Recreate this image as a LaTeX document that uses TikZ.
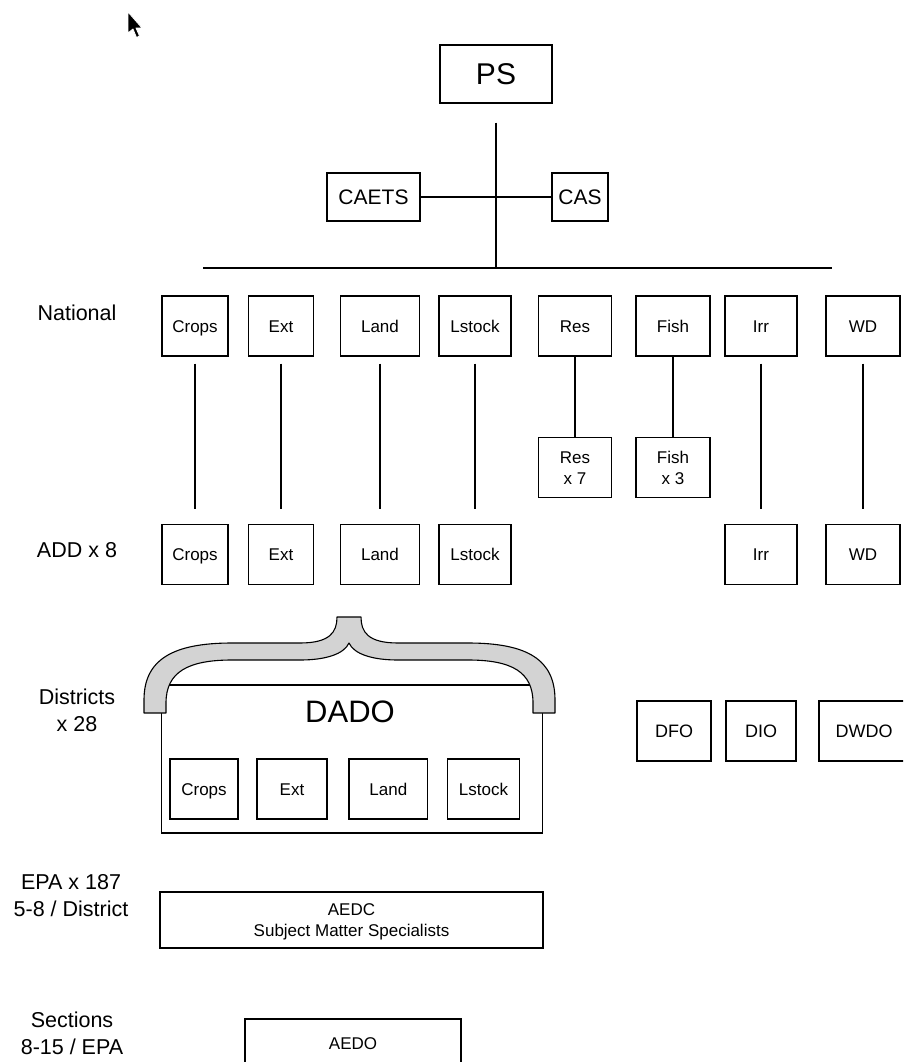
\documentclass[tikz,border=0pt]{standalone}
\usepackage{fontspec}
\setmainfont{Liberation Sans}
\usetikzlibrary{positioning, calc}
\definecolor{bracegray}{HTML}{D3D3D3}

\begin{document}
\begin{tikzpicture}[
  x=1pt, y=-1pt, line width=1.4pt,
  office/.style = {draw, rectangle, inner sep=0pt, minimum height=60pt,
                   align=center, font=\fontsize{17}{21}\selectfont,
                   text height=12.3pt, text depth=0pt},
  twoline/.style = {text height=33.3pt},
  tier/.style   = {align=center, font=\fontsize{21.5}{27}\selectfont},
  gapline/.style = {shorten <=7pt, shorten >=15pt},
]
  \useasboundingbox (0,0) rectangle (903,1062);
  \clip (0,0) rectangle (903,1062);

  % Mouse pointer
  \draw[fill=black, draw=white, line width=0.8pt, line join=round]
    (128,12) -- (128,33) -- (133,29) -- (136.5,37.5) -- (139.5,36) -- (136,28) -- (142,28) -- cycle;

  % Top of the tree
  \node[office, minimum width=112pt, minimum height=58pt, text height=21.6pt,
        font=\fontsize{30}{34}\selectfont]          (PS)    at (496,74)    {PS};
  \node[office, minimum width=93pt, minimum height=48pt, text height=15.1pt,
        font=\fontsize{21}{24}\selectfont]          (CAETS) at (373.5,197) {CAETS};
  \node[office, minimum width=56pt, minimum height=48pt, text height=15.1pt,
        font=\fontsize{21}{24}\selectfont]          (CAS)   at (580,197)   {CAS};

  \coordinate (busL) at (203,268);
  \coordinate (busR) at (832,268);
  \draw (busL) -- (busR);
  \draw[shorten <=19pt] (PS) -- (PS |- busL);
  \draw (CAETS) -- (CAS);

  % Level labels
  \node[tier] (lNat)  at (77,313)  {National};
  \node[tier] (lADD)  at (77,550)  {ADD x 8};
  \node[tier] (lDist) at (77,710)  {Districts\\x 28};
  \node[tier] (lEPA)  at (71,896)  {EPA x 187\\5-8 / District};
  \node[tier] (lSec)  at (72,1033) {Sections\\8-15 / EPA};

  % National row
  \node[office, minimum width=66pt] (nCrops)  at (195,326) {Crops};
  \node[office, minimum width=65pt] (nExt)    at (281,326) {Ext};
  \node[office, minimum width=79pt] (nLand)   at (380,326) {Land};
  \node[office, minimum width=72pt] (nLstock) at (475,326) {Lstock};
  \node[office, minimum width=73pt] (nRes)    at (575,326) {Res};
  \node[office, minimum width=74pt] (nFish)   at (673,326) {Fish};
  \node[office, minimum width=72pt] (nIrr)    at (761,326) {Irr};
  \node[office, minimum width=74pt] (nWD)     at (863,326) {WD};

  % Research and fisheries stations
  \node[office, twoline, minimum width=73pt, below=80pt of nRes]  (sRes)  {Res\\x 7};
  \node[office, twoline, minimum width=74pt, below=80pt of nFish] (sFish) {Fish\\x 3};
  \draw (nRes)  -- (sRes);
  \draw (nFish) -- (sFish);

  % ADD row
  \node[office, minimum width=66pt, below=167pt of nCrops]  (aCrops)  {Crops};
  \node[office, minimum width=65pt, below=167pt of nExt]    (aExt)    {Ext};
  \node[office, minimum width=79pt, below=167pt of nLand]   (aLand)   {Land};
  \node[office, minimum width=72pt, below=167pt of nLstock] (aLstock) {Lstock};
  \node[office, minimum width=72pt, below=167pt of nIrr]    (aIrr)    {Irr};
  \node[office, minimum width=74pt, below=167pt of nWD]     (aWD)     {WD};

  \draw[gapline] (nCrops)  -- (aCrops);
  \draw[gapline] (nExt)    -- (aExt);
  \draw[gapline] (nLand)   -- (aLand);
  \draw[gapline] (nLstock) -- (aLstock);
  \draw[gapline] (nIrr)    -- (aIrr);
  \draw[gapline] (nWD)     -- (aWD);

  % District level
  \node[draw, rectangle, minimum width=380.6pt, minimum height=148.3pt] (dado) at (352,759) {};
  \node[font=\fontsize{31}{34}\selectfont] (dadoT) at (350,712) {DADO};
  \node[office, minimum width=68pt]   (dCrops)  at (204,789)   {Crops};
  \node[office, minimum width=70pt]   (dExt)    at (292,789)   {Ext};
  \node[office, minimum width=78.7pt] (dLand)   at (388.3,789) {Land};
  \node[office, minimum width=71.6pt] (dLstock) at (483.5,789) {Lstock};

  % Brace over DADO
  \draw[fill=bracegray, line width=1.1pt, line join=round] (144,713) -- (144,700)
    .. controls (144,660) and (172,643) .. (232,643) -- (300,643)
    .. controls (330,643) and (337,632) .. (337,617) -- (361,617)
    .. controls (361,632) and (368,643) .. (398,643) -- (468,643)
    .. controls (528,643) and (555,660) .. (555,700) -- (555,713) -- (533,713) -- (533,703)
    .. controls (533,672) and (512,660) .. (468,660) -- (398,660)
    .. controls (372,660) and (354,654) .. (349,643)
    .. controls (344,654) and (326,660) .. (300,660) -- (232,660)
    .. controls (188,660) and (166,672) .. (166,703) -- (166,713) -- cycle;

  \node[office, minimum width=74pt, text height=13pt, font=\fontsize{18}{21}\selectfont] (DFO)  at (674,731) {DFO};
  \node[office, minimum width=70pt, text height=13pt, font=\fontsize{18}{21}\selectfont] (DIO)  at (761,731) {DIO};
  \node[office, minimum width=90pt, text height=13pt, font=\fontsize{18}{21}\selectfont] (DWDO) at (864,731) {DWDO};

  % EPA and section level
  \node[office, twoline, minimum width=383pt, minimum height=56pt]
    (AEDC) at (351.5,920) {AEDC\\Subject Matter Specialists};
  \node[office, minimum width=216pt, minimum height=48pt]
    (AEDO) at (353,1043) {AEDO};
\end{tikzpicture}
\end{document}
